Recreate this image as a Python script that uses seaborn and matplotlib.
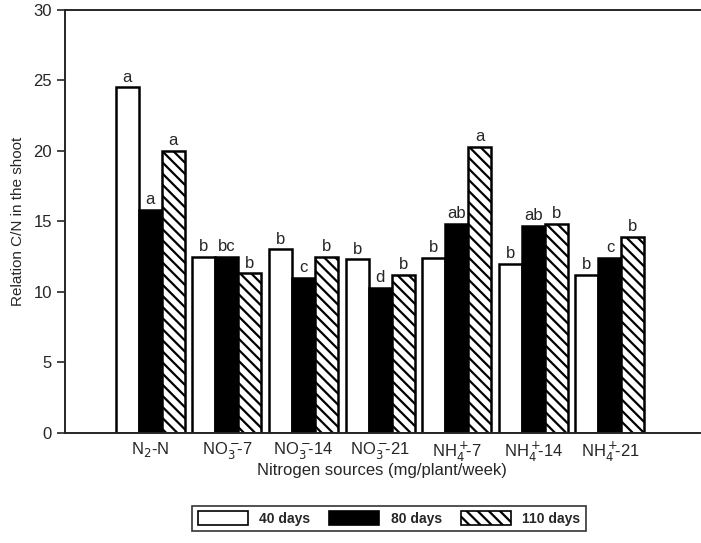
import pandas as pd
import matplotlib.pyplot as plt
import seaborn as sns

sources = [r'N$_2$-N', r'NO$_3^-\!\!$-7', r'NO$_3^-\!\!$-14', r'NO$_3^-\!\!$-21',
           r'NH$_4^+\!\!$-7', r'NH$_4^+\!\!$-14', r'NH$_4^+\!\!$-21']
days = ['40 days', '80 days', '110 days']

cn_40 = [24.5, 12.5, 13.0, 12.3, 12.4, 12.0, 11.2]
cn_80 = [15.8, 12.5, 11.0, 10.3, 14.8, 14.7, 12.4]
cn_110 = [20.0, 11.3, 12.5, 11.2, 20.3, 14.8, 13.9]

let_40 = ['a', 'b', 'b', 'b', 'b', 'b', 'b']
let_80 = ['a', 'bc', 'c', 'd', 'ab', 'ab', 'c']
let_110 = ['a', 'b', 'b', 'b', 'a', 'b', 'b']

rows = []
for vals, lets, d in [(cn_40, let_40, days[0]), (cn_80, let_80, days[1]), (cn_110, let_110, days[2])]:
    for s, v, l in zip(sources, vals, lets):
        rows.append({'Source': s, 'Days': d, 'CN': v, 'Letter': l})
df = pd.DataFrame(rows)

sns.set_style('ticks')
plt.rcParams['font.family'] = ['Liberation Sans', 'DejaVu Sans']
plt.rcParams['hatch.linewidth'] = 1.6

fig = plt.figure(figsize=(7.01, 5.43), dpi=100)
ax = fig.add_axes([0.093, 0.203, 0.905, 0.779])

sns.barplot(data=df, x='Source', y='CN', hue='Days', order=sources, hue_order=days,
            palette=['white', 'black', 'white'], edgecolor='black', linewidth=1.8,
            width=0.9, ax=ax, legend=False)

for patch in ax.containers[2]:
    patch.set_hatch('\\\\\\')

for cont, d in zip(ax.containers, days):
    lets = df[df['Days'] == d].set_index('Source').loc[sources, 'Letter']
    ax.bar_label(cont, labels=list(lets), padding=2, fontsize=12)

ax.set_ylim(0, 30)
ax.set_xlim(-1.11, 7.17)
ax.set_yticks(range(0, 31, 5))
ax.tick_params(axis='y', labelsize=12, length=6, width=1.2)
ax.tick_params(axis='x', labelsize=12, length=0, pad=5)
ax.set_xlabel('Nitrogen sources (mg/plant/week)', fontsize=12, labelpad=-1)
ax.set_ylabel('Relation C/N in the shoot', fontsize=11, labelpad=6)
ax.spines['right'].set_visible(False)
for sp in ['left', 'bottom', 'top']:
    ax.spines[sp].set_linewidth(1.4)

handles = [plt.Rectangle((0, 0), 1, 1, facecolor='white', edgecolor='black', lw=1.2),
           plt.Rectangle((0, 0), 1, 1, facecolor='black', edgecolor='black', lw=1.2),
           plt.Rectangle((0, 0), 1, 1, facecolor='white', edgecolor='black', lw=1.2, hatch='\\\\\\')]
leg = fig.legend(handles, days, loc='center', bbox_to_anchor=(0.555, 0.045), ncol=3,
                 frameon=True, fancybox=False, edgecolor='black', handlelength=3.6,
                 handleheight=1.1, columnspacing=1.4, prop={'weight': 'bold', 'size': 10})
leg.get_frame().set_linewidth(1.2)

fig.savefig('out.png', dpi=100)
